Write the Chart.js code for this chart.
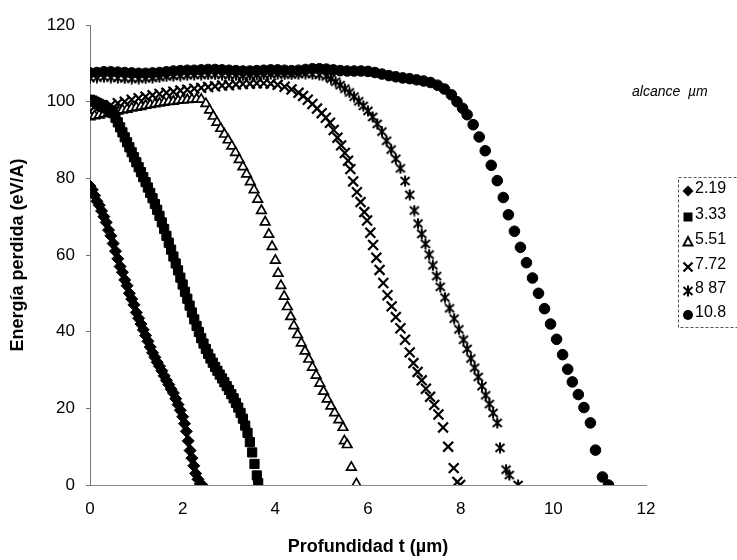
<!DOCTYPE html>
<html>
<head>
<meta charset="utf-8">
<script src="https://cdn.jsdelivr.net/npm/chart.js@4.4.0/dist/chart.umd.min.js"></script>
<style>
html,body{margin:0;padding:0;background:#fff}
#wrap{width:737px;height:560px;position:relative}
</style>
</head>
<body>
<div id="wrap"><canvas id="chart"></canvas></div>
<script>
// alcance (um) de cada serie, como en la leyenda
const alcances=['2.19','3.33','5.51','7.72','8 87','10.8'];
const xTicks=[0,2,4,6,8,10,12];
const yTicks=[0,20,40,60,80,100,120];

// [profundidad t (um), energia perdida (eV/A)]
const s219=[[0,78],[0.05,77],[0.1,75.5],[0.15,74],[0.2,73],[0.25,71.5],[0.3,70],[0.35,68.5],[0.4,66.5],[0.45,65],[0.5,63],[0.55,61],[0.6,59],[0.65,57],[0.7,55.5],[0.75,53.5],[0.8,52],[0.85,50],[0.9,48.5],[0.95,47],[1.0,45],[1.05,43.5],[1.1,42],[1.15,40.5],[1.2,39],[1.25,37.5],[1.3,36],[1.35,34.5],[1.4,33.3],[1.45,32],[1.5,31],[1.55,29.8],[1.6,28.5],[1.65,27.3],[1.7,26.2],[1.75,25],[1.8,24],[1.85,22.5],[1.9,21],[1.95,19.5],[2.0,17.8],[2.04,16],[2.08,14],[2.12,11.5],[2.16,9],[2.2,7],[2.24,5],[2.28,3],[2.33,1.5],[2.38,0.3],[2.42,0]];
const s333=[[0,100.5],[0.05,100.3],[0.1,100],[0.15,99.7],[0.2,99.4],[0.25,99.1],[0.3,98.7],[0.35,98.3],[0.4,97.9],[0.45,97.5],[0.5,97],[0.55,95.8],[0.6,94.6],[0.65,93.3],[0.7,92],[0.75,90.7],[0.8,89.4],[0.85,88.1],[0.9,86.8],[0.95,85.5],[1.0,84.2],[1.05,82.9],[1.1,81.6],[1.15,80.3],[1.2,79],[1.25,77.6],[1.3,76.2],[1.35,74.8],[1.4,73.3],[1.45,71.8],[1.5,70.2],[1.55,68.5],[1.6,66.8],[1.65,65],[1.7,63.2],[1.75,61.4],[1.8,59.6],[1.85,57.8],[1.9,56],[1.95,54.1],[2.0,52.3],[2.05,50.4],[2.1,48.6],[2.15,46.8],[2.2,45],[2.25,43.2],[2.3,41.5],[2.35,39.9],[2.4,38.3],[2.45,36.9],[2.5,35.5],[2.55,34.2],[2.6,33],[2.65,31.9],[2.7,30.8],[2.75,29.8],[2.8,28.8],[2.85,27.8],[2.9,26.8],[2.95,25.8],[3.0,24.8],[3.05,23.7],[3.1,22.6],[3.15,21.4],[3.2,20.2],[3.25,18.8],[3.3,17.3],[3.35,15.5],[3.4,13.6],[3.45,11.2],[3.5,8.5],[3.55,5.5],[3.6,2.5],[3.63,0.5]];
const s551=[[0,96],[0.1,96.3],[0.2,96.5],[0.3,96.8],[0.4,97],[0.5,97.3],[0.6,97.5],[0.7,97.8],[0.8,98],[0.9,98.3],[1.0,98.5],[1.1,98.7],[1.2,99],[1.3,99.2],[1.4,99.4],[1.5,99.6],[1.6,99.8],[1.7,100],[1.8,100.1],[1.9,100.3],[2.0,100.4],[2.1,100.5],[2.2,100.6],[2.3,100.7],[2.4,100.6],[2.5,99.5],[2.58,97.8],[2.66,96.2],[2.74,94.6],[2.82,93],[2.9,91.5],[2.98,90],[3.06,88.4],[3.14,86.7],[3.22,84.9],[3.3,83],[3.38,81.1],[3.46,79.1],[3.54,77],[3.62,74.5],[3.7,71.6],[3.78,68.6],[3.86,65.4],[3.93,62.2],[4.0,58.6],[4.06,55.2],[4.12,52],[4.19,49.2],[4.26,46.5],[4.33,43.9],[4.4,41.5],[4.48,39.2],[4.56,37],[4.64,34.9],[4.72,32.8],[4.8,30.7],[4.88,28.6],[4.96,26.5],[5.04,24.4],[5.12,22.4],[5.2,20.6],[5.28,18.8],[5.37,17],[5.46,15],[5.49,11.5],[5.55,10.5],[5.64,4.6],[5.75,0.3]];
const s772=[[0,97.5],[0.15,98],[0.3,98.6],[0.45,99.1],[0.6,99.6],[0.75,100],[0.9,100.5],[1.05,100.9],[1.2,101.3],[1.35,101.7],[1.5,102],[1.65,102.3],[1.8,102.6],[1.95,102.9],[2.1,103.1],[2.25,103.4],[2.4,103.6],[2.55,103.8],[2.7,104],[2.85,104.2],[3.0,104.3],[3.15,104.5],[3.3,104.6],[3.45,104.7],[3.6,104.8],[3.75,104.8],[3.9,104.7],[4.05,104.4],[4.2,103.9],[4.35,103.2],[4.5,102.3],[4.6,101.5],[4.7,100.5],[4.8,99.4],[4.9,98.2],[5.0,97],[5.09,95.8],[5.18,94.5],[5.26,92.6],[5.34,90.6],[5.42,88.6],[5.5,86.6],[5.57,84.6],[5.62,82.4],[5.68,79.2],[5.76,76.4],[5.84,73.8],[5.92,71.2],[5.98,69],[6.05,65.8],[6.11,62.6],[6.18,59.3],[6.25,56.1],[6.33,52.7],[6.42,49.5],[6.51,46.6],[6.6,43.8],[6.7,40.9],[6.8,37.9],[6.9,34.6],[6.98,31.8],[7.07,29.5],[7.16,27.3],[7.25,25.1],[7.34,23],[7.43,20.9],[7.52,18.4],[7.62,15],[7.73,10],[7.85,4.4],[7.93,0.8],[7.99,0]];
const s887=[[0,106.2],[0.15,106.3],[0.3,106.4],[0.45,106.3],[0.6,106.2],[0.75,106.1],[0.9,106],[1.05,106],[1.2,106.1],[1.35,106.2],[1.5,106.4],[1.65,106.6],[1.8,106.7],[1.95,106.8],[2.1,106.9],[2.25,107],[2.4,107],[2.55,107.1],[2.7,107.1],[2.85,107],[3.0,106.9],[3.15,106.9],[3.3,106.8],[3.45,106.9],[3.6,107],[3.75,107.1],[3.9,107.2],[4.05,107.2],[4.2,107.1],[4.35,107.1],[4.5,107.2],[4.65,107.3],[4.8,107.2],[4.95,107],[5.1,106.6],[5.2,106],[5.3,105.2],[5.4,104.3],[5.5,103.4],[5.6,102.4],[5.7,101.3],[5.8,100.1],[5.9,98.9],[6.0,97.6],[6.1,96],[6.2,94.2],[6.3,92.2],[6.4,89.8],[6.5,87.5],[6.6,85.1],[6.7,82.6],[6.8,79.3],[6.9,75.7],[7.0,71.6],[7.08,68.2],[7.16,65.5],[7.24,62.9],[7.32,60.1],[7.4,57.3],[7.48,54.5],[7.56,51.7],[7.66,48.9],[7.76,46.1],[7.86,43.4],[7.96,40.6],[8.06,37.9],[8.14,35.5],[8.22,33],[8.3,30.6],[8.38,28.2],[8.46,25.8],[8.54,23.4],[8.62,21.1],[8.7,18.8],[8.79,16.2],[8.85,9.7],[8.98,4],[9.05,2.6],[9.24,0]];
const s108=[[0,107.5],[0.15,107.6],[0.3,107.8],[0.45,107.8],[0.6,107.7],[0.75,107.6],[0.9,107.5],[1.05,107.4],[1.2,107.4],[1.35,107.5],[1.5,107.6],[1.65,107.8],[1.8,108],[1.95,108.1],[2.1,108.2],[2.25,108.2],[2.4,108.3],[2.55,108.4],[2.7,108.4],[2.85,108.3],[3.0,108.2],[3.15,108.1],[3.3,108],[3.45,108],[3.6,108.1],[3.75,108.2],[3.9,108.3],[4.05,108.3],[4.2,108.2],[4.35,108.1],[4.5,108.2],[4.65,108.4],[4.8,108.6],[4.95,108.6],[5.1,108.5],[5.25,108.3],[5.4,108.1],[5.55,108],[5.7,108],[5.85,108],[6.0,107.9],[6.15,107.6],[6.3,107.2],[6.45,106.8],[6.6,106.5],[6.75,106.2],[6.9,106],[7.05,105.7],[7.2,105.4],[7.35,105],[7.5,104.3],[7.65,103.3],[7.8,101.8],[7.92,100],[8.04,98.3],[8.14,96.6],[8.27,94],[8.4,90.8],[8.53,87.2],[8.66,83.4],[8.79,79.4],[8.92,75],[9.03,70.5],[9.16,66.2],[9.29,62],[9.42,58],[9.55,54],[9.68,50],[9.81,46],[9.94,42],[10.07,38],[10.2,34],[10.31,30.2],[10.41,26.9],[10.54,23.6],[10.66,20.2],[10.8,16.2],[10.91,9.1],[11.06,2.1],[11.19,0]];

const F='Arial, "Liberation Sans", sans-serif';

// asterisco tipo Excel: aspa con barra vertical
function starImg(){
  const c=document.createElement('canvas'); c.width=12; c.height=12;
  const g=c.getContext('2d'); g.strokeStyle='#000'; g.lineWidth=2;
  g.beginPath(); g.moveTo(6,0.5); g.lineTo(6,11.5);
  g.moveTo(1.5,2); g.lineTo(10.5,10); g.moveTo(10.5,2); g.lineTo(1.5,10); g.stroke();
  return c;
}
const star=starImg();

const series=[
  {data:s219,pointStyle:'rectRot',pointRadius:6,pointBackgroundColor:'#000',pointBorderColor:'#000',pointBorderWidth:1},
  {data:s333,pointStyle:'rect',pointRadius:6.5,pointBackgroundColor:'#000',pointBorderColor:'#000',pointBorderWidth:1},
  {data:s551,pointStyle:'triangle',pointRadius:5.5,pointBackgroundColor:'#fff',pointBorderColor:'#000',pointBorderWidth:1.7},
  {data:s772,pointStyle:'crossRot',pointRadius:7,pointBorderColor:'#000',pointBorderWidth:2.2},
  {data:s887,pointStyle:star,pointRadius:6,pointBorderColor:'#000'},
  {data:s108,pointStyle:'circle',pointRadius:5.3,pointBackgroundColor:'#000',pointBorderColor:'#000',pointBorderWidth:1}
].map((d,i)=>Object.assign({label:alcances[i],showLine:false},d));

function mark(ctx,i,x,y){
  ctx.save(); ctx.fillStyle='#000'; ctx.strokeStyle='#000'; ctx.beginPath();
  if(i===0){ctx.moveTo(x,y-5.5);ctx.lineTo(x+5.5,y);ctx.lineTo(x,y+5.5);ctx.lineTo(x-5.5,y);ctx.closePath();ctx.fill();}
  else if(i===1){ctx.fillRect(x-4.5,y-4.5,9,9);}
  else if(i===2){ctx.lineWidth=1.9;ctx.moveTo(x,y-5);ctx.lineTo(x+4.5,y+3.5);ctx.lineTo(x-4.5,y+3.5);ctx.closePath();ctx.stroke();}
  else if(i===3){ctx.lineWidth=2.2;ctx.moveTo(x-4.5,y-4.5);ctx.lineTo(x+4.5,y+4.5);ctx.moveTo(x+4.5,y-4.5);ctx.lineTo(x-4.5,y+4.5);ctx.stroke();}
  else if(i===4){ctx.drawImage(star,x-6,y-6);}
  else {ctx.arc(x,y,5,0,Math.PI*2);ctx.fill();}
  ctx.restore();
}

const leyenda={id:'leyenda',afterDraw(chart){
  const ctx=chart.ctx; ctx.save();
  ctx.strokeStyle='#555'; ctx.lineWidth=1; ctx.setLineDash([3,2]);
  ctx.strokeRect(678.5,177.5,90,150); ctx.setLineDash([]);
  ctx.fillStyle='#000'; ctx.textBaseline='middle'; ctx.textAlign='left';
  ctx.font='italic 14px '+F; ctx.fillText('alcance  µm',632,92);
  ctx.font='16px '+F;
  const ys=[191,217,242,267,291,315];
  alcances.forEach((a,i)=>{ mark(ctx,i,688,ys[i]); ctx.fillText(a,695,ys[i]-2); });
  ctx.restore();
}};

new Chart(document.getElementById('chart'),{
  type:'scatter',
  data:{datasets:series},
  plugins:[leyenda],
  options:{
    responsive:true,maintainAspectRatio:false,animation:false,
    layout:{padding:{top:25,right:91,left:0,bottom:0}},
    plugins:{legend:{display:false},tooltip:{enabled:false}},
    scales:{
      x:{type:'linear',min:xTicks[0],max:xTicks[xTicks.length-1],
        afterFit(s){s.height=75;},
        afterBuildTicks(s){s.ticks=xTicks.map(v=>({value:v}));},
        ticks:{color:'#000',font:{family:F,size:17},padding:14},
        grid:{display:false,drawTicks:false},
        border:{display:true,color:'#888',dash:[3,24]},
        title:{display:true,text:'Profundidad t (µm)',color:'#000',font:{family:F,size:18,weight:'bold'},padding:{top:0,bottom:2}}},
      y:{min:yTicks[0],max:yTicks[yTicks.length-1],
        afterFit(s){s.width=90;},
        afterBuildTicks(s){s.ticks=yTicks.map(v=>({value:v}));},
        ticks:{color:'#000',font:{family:F,size:17},padding:11},
        grid:{display:true,drawOnChartArea:false,drawTicks:true,tickLength:4,color:'#777'},
        border:{display:true,color:'#777',dash:[10,3,2,3]},
        title:{display:true,text:'Energía perdida (eV/A)',color:'#000',font:{family:F,size:18,weight:'bold'},padding:{top:7,bottom:0}}}
    }
  }
});
</script>
</body>
</html>
